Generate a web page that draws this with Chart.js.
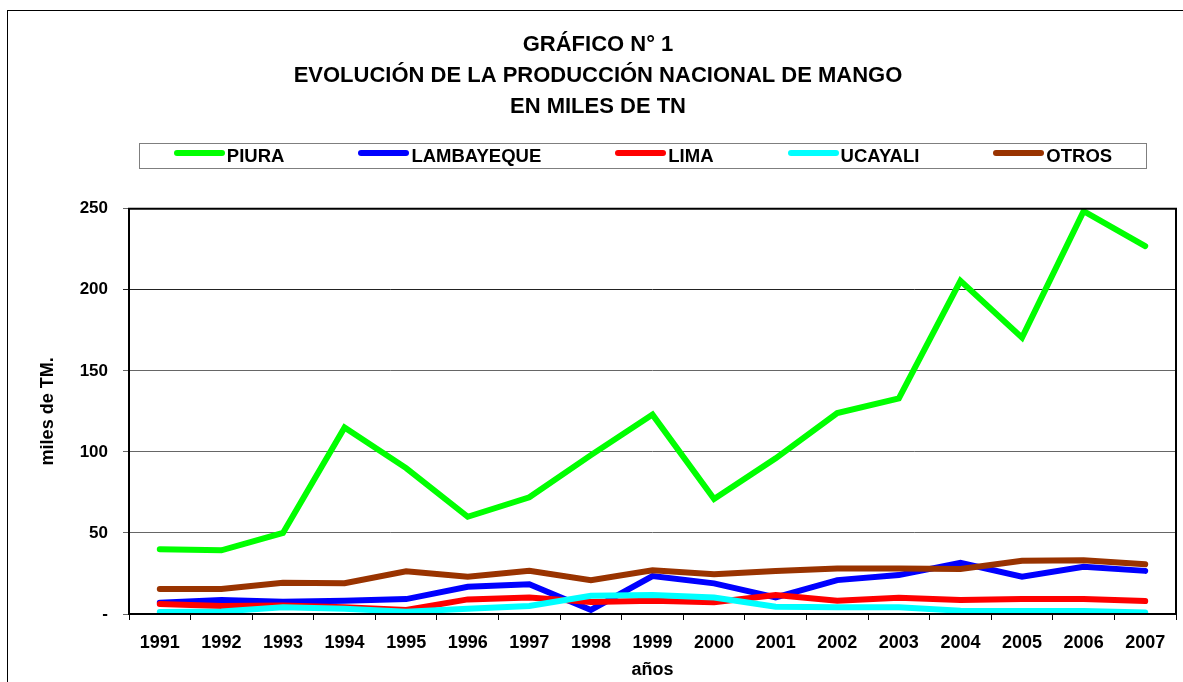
<!DOCTYPE html>
<html>
<head>
<meta charset="utf-8">
<script src="https://cdn.jsdelivr.net/npm/chart.js@4"></script>
<style>
  html, body { margin: 0; padding: 0; background: #fff; overflow: hidden; }
  #frame { position: absolute; left: 7px; top: 10px; width: 1300px; height: 900px; border: 1px solid #000; }
  #wrap { position: absolute; left: 0; top: 0; width: 1183px; height: 682px; }
  #legend {
    position: absolute; left: 139px; top: 143px; width: 1006px; height: 24px;
    border: 1px solid #7f7f7f; display: flex; align-items: center; justify-content: center; gap: 74px;
    font: bold 18.5px "Liberation Sans", Arial, sans-serif; color: #000;
  }
  .item { display: flex; align-items: center; white-space: nowrap; }
  .swatch { width: 51px; height: 6px; border-radius: 3px; margin-right: 2px; position: relative; top: -3px; }
</style>
</head>
<body>
<div id="frame"></div>
<div id="wrap"><canvas id="chart"></canvas></div>
<div id="legend"></div>
<script>
// Producción nacional de mango, miles de TM
const years = ['1991', '1992', '1993', '1994', '1995', '1996', '1997', '1998', '1999',
               '2000', '2001', '2002', '2003', '2004', '2005', '2006', '2007'];
const piura      = [40, 39.3, 50, 115, 90, 60, 72, 98, 123, 71, 96, 124, 133, 205.5, 170.5, 248.5, 227];
const lambayeque = [7, 8.6, 7.6, 8.2, 9.2, 16.8, 18.4, 2.5, 23.4, 18.9, 10.2, 20.9, 24, 31.6, 23, 29.1, 26.6];
const lima       = [6.1, 4.9, 5.3, 4.1, 2.5, 9, 10.2, 7.4, 8.2, 7.2, 11.7, 8.2, 10, 8.6, 9.2, 9.2, 8];
const ucayali    = [1.2, 1.6, 4.1, 3.3, 1.4, 3.3, 4.9, 11.3, 11.7, 10.2, 4.5, 4.1, 4.1, 2, 1.8, 1.8, 1];
const otros      = [15.4, 15.4, 19.3, 19, 26.4, 23, 26.6, 20.9, 27, 24.6, 26.6, 28, 28, 27.7, 32.8, 33.2, 30.7];

const seriesNames  = ['PIURA', 'LAMBAYEQUE', 'LIMA', 'UCAYALI', 'OTROS'];
const seriesValues = [piura, lambayeque, lima, ucayali, otros];
const seriesColors = ['#00ff00', '#0000ff', '#ff0000', '#00ffff', '#993300'];

const yTicks = [0, 50, 100, 150, 200, 250];

const FONT = '"Liberation Sans", Arial, sans-serif';

// plot border drawn round the chart area
const plotBorder = {
    id: 'plotBorder',
    afterDraw(chart) {
        const {ctx, chartArea: a} = chart;
        ctx.save();
        ctx.strokeStyle = '#000';
        ctx.lineWidth = 2;
        ctx.strokeRect(a.left, a.top, a.right - a.left, a.bottom - a.top);
        ctx.restore();
    }
};

const datasets = seriesNames.map((name, i) => ({
    label: name,
    data: seriesValues[i],
    borderColor: seriesColors[i],
    backgroundColor: seriesColors[i],
    borderWidth: 6,
    borderCapStyle: 'round',
    pointRadius: 0,
    tension: 0,
    order: seriesNames.length - i
}));

const chart = new Chart(document.getElementById('chart'), {
    type: 'line',
    data: { labels: years, datasets: datasets },
    options: {
        responsive: true,
        maintainAspectRatio: false,
        animation: false,
        layout: { padding: { left: 20, right: 7, top: 0, bottom: 0 } },
        plugins: {
            legend: { display: false },
            tooltip: { enabled: false },
            title: {
                display: true,
                text: ['GRÁFICO N° 1', 'EVOLUCIÓN DE LA PRODUCCIÓN NACIONAL DE MANGO', 'EN MILES DE TN'],
                color: '#000',
                font: { family: FONT, size: 22, weight: 'bold', lineHeight: 1.39 },
                padding: { top: 30, bottom: 87 }
            }
        },
        scales: {
            x: {
                offset: true,
                border: { display: false },
                grid: { offset: true, drawOnChartArea: false, drawTicks: true, tickLength: 6, color: '#000' },
                ticks: { color: '#000', padding: 12, maxRotation: 0, font: { family: FONT, size: 18, weight: 'bold' } },
                title: {
                    display: true, text: 'años', color: '#000',
                    font: { family: FONT, size: 18, weight: 'bold' },
                    padding: { top: 0, bottom: 1 }
                },
                afterFit(scale) { scale.height = 68; }
            },
            y: {
                min: 0,
                max: 250,
                border: { display: false },
                afterBuildTicks(scale) { scale.ticks = yTicks.map(v => ({ value: v })); },
                grid: {
                    color: ctx => (ctx.tick && ctx.tick.value === 200) ? '#222' : '#666',
                    lineWidth: 1,
                    tickLength: 6
                },
                ticks: {
                    color: '#000',
                    padding: 15,
                    font: { family: FONT, size: 17, weight: 'bold' },
                    callback: v => v === 0 ? '-' : v
                },
                title: {
                    display: true, text: 'miles de TM.', color: '#000',
                    font: { family: FONT, size: 18, weight: 'bold' },
                    padding: { top: 17, bottom: 0 }
                },
                afterFit(scale) { scale.width = 109; }
            }
        }
    },
    plugins: [plotBorder]
});

// HTML legend built from the datasets
const legendEl = document.getElementById('legend');
chart.data.datasets.forEach(ds => {
    const item = document.createElement('div');
    item.className = 'item';
    item.innerHTML = `<span class="swatch" style="background:${ds.borderColor}"></span><span>${ds.label}</span>`;
    legendEl.appendChild(item);
});
</script>
</body>
</html>
